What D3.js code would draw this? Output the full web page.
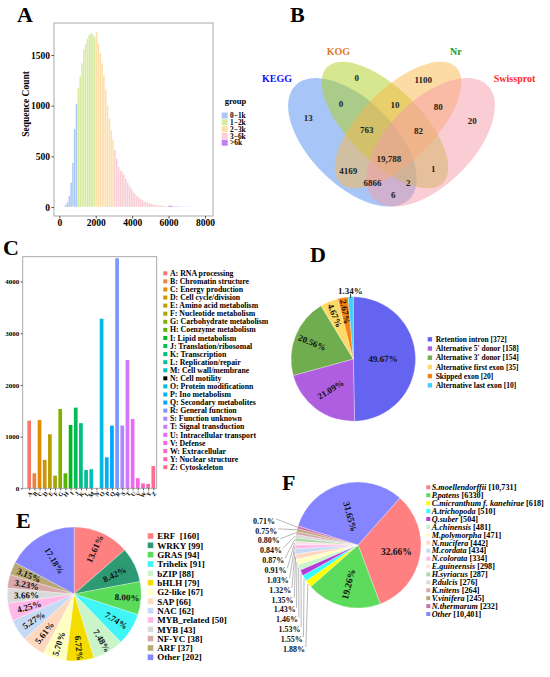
<!DOCTYPE html>
<html>
<head>
<meta charset="utf-8">
<script src="https://cdn.jsdelivr.net/npm/d3@7"></script>
<style>
body { margin: 0; background: #fff; }
svg { display: block; }
text { font-family: "Liberation Serif", "Times New Roman", serif; font-weight: bold; }
</style>
</head>
<body>
<svg id="fig" width="550" height="677"></svg>
<script>
// ---------------- data ----------------

// A: unigene length distribution, counts per 100 bp bin starting at 0
var binWidth = 100;
var lenCounts = [
  0, 2, 8, 20, 45, 110, 240, 440, 770, 1020,
  1180, 1290, 1420, 1560, 1610, 1660, 1700, 1715, 1700, 1685,
  1725, 1610, 1520, 1420, 1300, 1160, 1000, 870, 760, 660,
  565, 480, 400, 360, 350, 320, 280, 245, 210, 180,
  152, 130, 112, 96, 82, 70, 60, 51, 43, 37,
  31, 27, 23, 20, 17, 15, 13, 11, 10, 9,
  14, 10, 7, 6, 5, 4, 3, 3, 2, 2,
  2, 1, 1, 1, 1, 0, 1, 0, 0, 0
];
var lenGroups = ["0\u22121k", "1\u22122k", "2\u22123k", "3\u22126k", ">6k"];
var lenGroupBreaks = [1000, 2000, 3000, 6000];
var lenGroupColors = ["#a9c8f6", "#d6eb9c", "#fddfa9", "#f9cfd5", "#c47ef0"];
var lenTicksX = [0, 2000, 4000, 6000, 8000];
var lenTicksY = [0, 500, 1000, 1500];

// B: annotation overlap between databases
var vennSets = ["KEGG", "KOG", "Nr", "Swissprot"];
var vennSetColors = ["#1010ff", "#e07b30", "#1e9a1e", "#ff2a2a"];
var vennFills = ["#4f8ef0", "#b0d020", "#fab84a", "#f59aa8"];
// regions: KEGG, KOG, Nr, Swiss only, KEGG&KOG, KOG&Nr, Nr&Swiss, KEGG&KOG&Nr,
// KOG&Nr&Swiss, all, KEGG&Nr, KOG&Swiss, KEGG&Nr&Swiss, KEGG&KOG&Swiss, KEGG&Swiss
var vennCounts = [13, 0, 1100, 20, 0, 10, 80, 763, 82, 19788, 4169, 1, 6866, 2, 6];

// C: KOG classification
var cogCodes = ["A","B","C","D","E","F","G","H","I","J","K","L","M","N","O","P","Q","R","S","T","U","V","W","Y","Z"];
var cogNames = ["RNA processing", "Chromatin structure", "Energy production", "Cell cycle/division",
  "Amino acid metabolism", "Nucleotide metabolism", "Carbohydrate metabolism", "Coenzyme metabolism",
  "Lipid metabolism", "Translation/ribosomal", "Transcription", "Replication/repair",
  "Cell wall/membrane", "Cell motility", "Protein modificationn", "Ino metabolism",
  "Secondary metabolites", "General function", "Function unknown", "Signal transduction",
  "Intracellular transport", "Defense", "Extracellular", "Nuclear structure", "Cytoskeleton"];
var cogCounts = [1310, 290, 1320, 550, 1045, 245, 1535, 290, 1225, 1560, 1260, 355, 370,
  0, 3280, 600, 1210, 4450, 1215, 2480, 1340, 195, 95, 85, 430];
var cogTicks = [0, 1000, 2000, 3000, 4000];

// D: alternative splicing events
var asTypes = ["Retention intron", "Alternative 5' donor", "Alternative 3' donor",
  "Alternative first exon", "Skipped exon", "Alternative last exon"];
var asCounts = [372, 158, 154, 35, 20, 10];
var asPct = ["49.67%", "21.09%", "20.56%", "4.67%", "2.67%", "1.34%"];
var asColors = ["#6464f0", "#b05ee0", "#70ad4f", "#ffd966", "#f7830c", "#44ccff"];

// E: transcription factor families
var tfNames = ["ERF\u00a0", "WRKY", "GRAS", "Trihelix", "bZIP", "bHLH", "G2-like", "SAP", "NAC",
  "MYB_related", "MYB", "NF-YC", "ARF", "Other"];
var tfCounts = [160, 99, 94, 91, 88, 79, 67, 66, 62, 50, 43, 38, 37, 202];
var tfPct = ["13.61%", "8.42%", "8.00%", "7.74%", "7.48%", "6.72%", "5.70%", "5.61%", "5.27%",
  "4.25%", "3.66%", "3.23%", "3.15%", "17.18%"];
var tfColors = ["#ff8080", "#2e9a74", "#5adc5a", "#40f5f5", "#c9f5c9", "#f5dc00", "#ffffc2",
  "#ffd9bf", "#c4daf5", "#ffb8e8", "#dadada", "#d9a8aa", "#b8a872", "#8585ff"];

// F: species distribution of Nr hits
var spNames = ["S.moellendorffii", "P.patens", "C.micranthum f. kanehirae", "A.trichopoda",
  "Q.suber", "A.chinensis", "M.polymorpha", "N.nucifera", "M.cordata", "N.colorata",
  "E.guineensis", "H.syriacus", "P.dulcis", "K.nitens", "V.vinifera", "N.thermarum", "Other"];
var spCounts = [10731, 6330, 618, 510, 504, 481, 471, 442, 434, 334, 298, 287, 276, 264, 245, 232, 10401];
var spPct = ["32.66%", "19.26%", "1.88%", "1.55%", "1.53%", "1.46%", "1.43%", "1.35%", "1.32%",
  "1.03%", "0.91%", "0.87%", "0.84%", "0.80%", "0.75%", "0.71%", "31.65%"];
var spColors = ["#ff8080", "#5cdb5c", "#ffff00", "#33ffff", "#b33dd9", "#c9f5c9", "#ffffc2",
  "#ffd9bf", "#c4daf5", "#ffb8e8", "#ffe0e6", "#a8dba8", "#d9d9d9", "#d9a8aa", "#b8a872",
  "#d16fb5", "#8585ff"];

// ---------------- helpers ----------------
var svg = d3.select("svg#fig");
var intFmt = d3.format("d");

function fmtCount(n) { return n >= 10000 ? d3.format(",")(n) : String(n); }
function midAngle(d) { return (d.startAngle + d.endAngle) / 2; }
// text turned along the radius, kept upright
function uprightAngle(d) {
  var deg = (midAngle(d) * 180 / Math.PI) % 360;
  return deg < 180 ? deg - 90 : deg - 270;
}
function polar(a, r) { return [Math.sin(a) * r, -Math.cos(a) * r]; }

// R-style hcl() (polar CIE-LUV), used for the default ggplot hue palette
function hclLuv(h, c, l) {
  var hr = h * Math.PI / 180;
  var u = c * Math.cos(hr), v = c * Math.sin(hr);
  var Xn = 95.047, Yn = 100, Zn = 108.883;
  var den = Xn + 15 * Yn + 3 * Zn;
  var un = 4 * Xn / den, vn = 9 * Yn / den;
  var Y = Yn * Math.pow((l + 16) / 116, 3);
  var up = u / (13 * l) + un, vp = v / (13 * l) + vn;
  var X = Y * 9 * up / (4 * vp), Z = Y * (12 - 3 * up - 20 * vp) / (4 * vp);
  X /= 100; Y /= 100; Z /= 100;
  var r = 3.240479 * X - 1.537150 * Y - 0.498535 * Z;
  var g = -0.969256 * X + 1.875992 * Y + 0.041556 * Z;
  var b = 0.055648 * X - 0.204043 * Y + 1.057311 * Z;
  function gam(t) {
    t = Math.max(0, Math.min(1, t));
    return t <= 0.0031308 ? 12.92 * t : 1.055 * Math.pow(t, 1 / 2.4) - 0.055;
  }
  return d3.rgb(gam(r) * 255, gam(g) * 255, gam(b) * 255).formatHex();
}

function panelLetter(s, x, y) {
  svg.append("text").attr("x", x).attr("y", y).attr("font-size", 22).attr("fill", "#000").text(s);
}
panelLetter("A", 17, 22);
panelLetter("B", 290, 22);
panelLetter("C", 3, 255);
panelLetter("D", 310, 262);
panelLetter("E", 16, 528);
panelLetter("F", 282, 490);

// ---------------- A: histogram ----------------
var xA = d3.scaleLinear().domain([0, 8000]).range([59.3, 205]);
var yA = d3.scaleLinear().domain([0, 1500]).range([207, 55]);
var gA = svg.append("g");

gA.selectAll("rect.bin")
  .data(lenCounts)
  .enter().append("rect")
  .attr("class", "bin")
  .attr("x", (d, i) => xA(i * binWidth))
  .attr("width", xA(binWidth) - xA(0))
  .attr("y", d => yA(d))
  .attr("height", d => yA(0) - yA(d))
  .attr("fill", (d, i) => lenGroupColors[d3.bisectRight(lenGroupBreaks, i * binWidth)])
  .attr("stroke", "#fff")
  .attr("stroke-width", 0.2);

gA.append("rect")
  .attr("x", 54).attr("y", 23).attr("width", 159).attr("height", 193)
  .attr("fill", "none").attr("stroke", "#a0a0a0").attr("stroke-width", 0.9);

gA.append("g")
  .attr("transform", "translate(54,0)")
  .call(d3.axisLeft(yA).tickValues(lenTicksY).tickFormat(intFmt).tickSize(2.5).tickPadding(1.5))
  .attr("font-size", 9.5)
  .call(g => g.select(".domain").remove())
  .call(g => g.selectAll("line").attr("stroke", "#555"));

gA.append("g")
  .attr("transform", "translate(0,216)")
  .call(d3.axisBottom(xA).tickValues(lenTicksX).tickFormat(intFmt).tickSize(2.5).tickPadding(1))
  .attr("font-size", 9.5)
  .call(g => g.select(".domain").remove())
  .call(g => g.selectAll("line").attr("stroke", "#555"));

gA.append("text")
  .attr("transform", "translate(28.5,104) rotate(-90)")
  .attr("text-anchor", "middle").attr("font-size", 9.5)
  .text("Sequence Count");

gA.append("text").attr("x", 224.7).attr("y", 104).attr("font-size", 8.5).text("group");
var legA = gA.selectAll("g.leg").data(lenGroups).enter().append("g")
  .attr("class", "leg")
  .attr("transform", (d, i) => "translate(221.7," + (115.5 + i * 6.8) + ")");
legA.append("rect").attr("x", 0).attr("y", -3).attr("width", 6).attr("height", 6)
  .attr("fill", (d, i) => lenGroupColors[i]);
legA.append("text").attr("x", 8.3).attr("y", 2.6).attr("font-size", 7.4).text(d => d);

// ---------------- B: Venn ----------------
var vx = d3.scaleLinear().domain([0, 1]).range([276.5, 506.5]);
var vy = d3.scaleLinear().domain([0, 1]).range([245, 15]);
var vUnit = vx(1) - vx(0);
var vennShapes = [
  { cx: 0.330, cy: 0.4465, a: 0.350, b: 0.184, rot: 45 },
  { cx: 0.4717, cy: 0.5217, a: 0.356, b: 0.158, rot: 45 },
  { cx: 0.5283, cy: 0.5217, a: 0.356, b: 0.158, rot: -45 },
  { cx: 0.670, cy: 0.4465, a: 0.350, b: 0.184, rot: -45 }
];
var vennLabelPos = [[0.138, 0.553], [0.349, 0.725], [0.638, 0.717], [0.851, 0.540],
  [0.280, 0.613], [0.515, 0.609], [0.703, 0.599], [0.392, 0.500], [0.617, 0.497],
  [0.489, 0.374], [0.312, 0.322], [0.682, 0.333], [0.417, 0.271], [0.573, 0.271], [0.508, 0.217]];
var vennSetPos = [[0.002, 0.722], [0.269, 0.840], [0.780, 0.840], [1.035, 0.722]];

var gB = svg.append("g");
gB.selectAll("ellipse")
  .data(vennShapes)
  .enter().append("ellipse")
  .attr("cx", d => vx(d.cx))
  .attr("cy", d => vy(d.cy))
  .attr("rx", d => d.a * vUnit)
  .attr("ry", d => d.b * vUnit)
  .attr("transform", d => "rotate(" + d.rot + "," + vx(d.cx) + "," + vy(d.cy) + ")")
  .attr("fill", (d, i) => vennFills[i])
  .attr("fill-opacity", 0.5);

gB.selectAll("text.cnt")
  .data(vennCounts)
  .enter().append("text")
  .attr("class", "cnt")
  .attr("x", (d, i) => vx(vennLabelPos[i][0]))
  .attr("y", (d, i) => vy(vennLabelPos[i][1]))
  .attr("dy", "0.35em")
  .attr("text-anchor", "middle")
  .attr("font-size", 9)
  .attr("fill", "#222")
  .text(d => fmtCount(d));

gB.selectAll("text.set")
  .data(vennSets)
  .enter().append("text")
  .attr("class", "set")
  .attr("x", (d, i) => vx(vennSetPos[i][0]))
  .attr("y", (d, i) => vy(vennSetPos[i][1]))
  .attr("dy", "0.35em")
  .attr("text-anchor", "middle")
  .attr("font-size", 10)
  .attr("fill", (d, i) => vennSetColors[i])
  .text(d => d);

// ---------------- C: KOG bars ----------------
var xC = d3.scalePoint().domain(cogCodes).range([29.2, 153.3]);
var yC = d3.scaleLinear().domain([0, 4480]).range([488.3, 256.7]);
var cogColors = cogCodes.map((c, i) => hclLuv(15 + 360 * i / cogCodes.length, 100, 65));
cogColors[cogCodes.indexOf("N")] = "#000000";
var barW = 3.7;

var gC = svg.append("g");
gC.selectAll("rect.bar")
  .data(cogCounts)
  .enter().append("rect")
  .attr("class", "bar")
  .attr("x", (d, i) => xC(cogCodes[i]) - barW / 2)
  .attr("width", barW)
  .attr("y", d => yC(d))
  .attr("height", d => yC(0) - yC(d))
  .attr("fill", (d, i) => cogColors[i]);

gC.append("rect")
  .attr("x", 22.7).attr("y", 256.7).attr("width", 134).attr("height", 231.6)
  .attr("fill", "none").attr("stroke", "#a0a0a0").attr("stroke-width", 0.9);

gC.append("g")
  .attr("transform", "translate(22.7,0)")
  .call(d3.axisLeft(yC).tickValues(cogTicks).tickFormat(intFmt).tickSize(2).tickPadding(1.5))
  .attr("font-size", 7)
  .call(g => g.select(".domain").remove())
  .call(g => g.selectAll("line").attr("stroke", "#555"));

gC.append("g")
  .attr("transform", "translate(0,488.3)")
  .call(d3.axisBottom(xC).tickSize(2))
  .attr("font-size", 6)
  .call(g => g.select(".domain").remove())
  .call(g => g.selectAll("line").attr("stroke", "#555"))
  .call(g => g.selectAll("text")
    .attr("x", 0).attr("y", 0).attr("dy", "0.35em")
    .attr("transform", "translate(1.5,4) rotate(-50)")
    .style("text-anchor", "end"));

var legC = gC.selectAll("g.leg").data(cogNames).enter().append("g")
  .attr("class", "leg")
  .attr("transform", (d, i) => "translate(163.3," + (273.3 + i * 8.08) + ")");
legC.append("rect").attr("x", 0).attr("y", -2).attr("width", 4).attr("height", 4)
  .attr("fill", (d, i) => cogColors[i]);
legC.append("text").attr("x", 6.7).attr("y", 2.6).attr("font-size", 7.8)
  .text((d, i) => cogCodes[i] + ": " + d);

// ---------------- D: splicing pie ----------------
var dCx = 353.3, dCy = 359, dR = 62.3;
var dLabelR = [0.48, 0.61, 0.71, 0.76, 0.77, 1.1];
var dLabelRot = [null, -32, null, null, null, 0];
var pieD = d3.pie().sort(null).value(d => d)(asCounts);
var arcD = d3.arc().innerRadius(0).outerRadius(dR);
var gD = svg.append("g").attr("transform", "translate(" + dCx + "," + dCy + ")");

gD.selectAll("path")
  .data(pieD)
  .enter().append("path")
  .attr("d", arcD)
  .attr("fill", (d, i) => asColors[i])
  .attr("stroke", "#fff").attr("stroke-width", 0.3);

gD.selectAll("text")
  .data(pieD)
  .enter().append("text")
  .attr("transform", (d, i) => {
    var p = polar(midAngle(d), dR * dLabelR[i]);
    var rot = dLabelRot[i] === null ? uprightAngle(d) : dLabelRot[i];
    return "translate(" + p[0] + "," + p[1] + ") rotate(" + rot + ")";
  })
  .attr("text-anchor", "middle").attr("dy", "0.35em")
  .attr("font-size", 9).attr("fill", "#111")
  .text((d, i) => asPct[i]);

// tiny tick for the outside label
gD.selectAll("line.tick")
  .data(pieD.filter((d, i) => dLabelR[i] > 1))
  .enter().append("line")
  .attr("class", "tick")
  .attr("x1", d => polar(midAngle(d), dR - 1)[0])
  .attr("y1", d => polar(midAngle(d), dR - 1)[1])
  .attr("x2", d => polar(midAngle(d), dR + 3)[0])
  .attr("y2", d => polar(midAngle(d), dR + 3)[1])
  .attr("stroke", "#000").attr("stroke-width", 0.8);

var legD = svg.selectAll("g.legD").data(asTypes).enter().append("g")
  .attr("class", "legD")
  .attr("transform", (d, i) => "translate(427.7," + (339.3 + i * 9.2) + ")");
legD.append("rect").attr("x", 0).attr("y", -2.2).attr("width", 4.4).attr("height", 4.4)
  .attr("fill", (d, i) => asColors[i]);
legD.append("text").attr("x", 8).attr("y", 2.6).attr("font-size", 7.5)
  .text((d, i) => d + " [" + asCounts[i] + "]");

// ---------------- E: TF family pie ----------------
var eCx = 74.2, eCy = 594, eR = 67;
var eLabelR = [0.74, 0.67, 0.79, 0.74, 0.81, 0.81, 0.78, 0.73, 0.72, 0.70, 0.71, 0.72, 0.73, 0.58];
var pieE = d3.pie().sort(null).value(d => d)(tfCounts);
var arcE = d3.arc().innerRadius(0).outerRadius(eR);
var gE = svg.append("g").attr("transform", "translate(" + eCx + "," + eCy + ")");

gE.selectAll("path")
  .data(pieE)
  .enter().append("path")
  .attr("d", arcE)
  .attr("fill", (d, i) => tfColors[i])
  .attr("stroke", "#fff").attr("stroke-width", 0.3);

gE.selectAll("text")
  .data(pieE)
  .enter().append("text")
  .attr("transform", (d, i) => {
    var p = polar(midAngle(d), eR * eLabelR[i]);
    return "translate(" + p[0] + "," + p[1] + ") rotate(" + uprightAngle(d) + ")";
  })
  .attr("text-anchor", "middle").attr("dy", "0.35em")
  .attr("font-size", 9).attr("fill", "#111")
  .text((d, i) => tfPct[i]);

var legE = svg.selectAll("g.legE").data(tfNames).enter().append("g")
  .attr("class", "legE")
  .attr("transform", (d, i) => "translate(147.7," + (536 + i * 9.33) + ")");
legE.append("rect").attr("x", 0).attr("y", -2.8).attr("width", 5.6).attr("height", 5.6)
  .attr("fill", (d, i) => tfColors[i]);
legE.append("text").attr("x", 9.6).attr("y", 3.2).attr("font-size", 9)
  .text((d, i) => d + " [" + tfCounts[i] + "]");

// ---------------- F: species pie ----------------
var fCx = 358, fCy = 545, fR = 63;
var fStart = 41.7 * Math.PI / 180;
var pieF = d3.pie().sort(null).value(d => d)
  .startAngle(fStart).endAngle(fStart + 2 * Math.PI)(spCounts);
var arcF = d3.arc().innerRadius(0).outerRadius(fR);
var gF = svg.append("g").attr("transform", "translate(" + fCx + "," + fCy + ")");

gF.selectAll("path")
  .data(pieF)
  .enter().append("path")
  .attr("d", arcF)
  .attr("fill", (d, i) => spColors[i])
  .attr("stroke", "#fff").attr("stroke-width", 0.3);

// the three big slices carry their label inside
var fInside = [0, 1, spCounts.length - 1];
var fInsideR = [0.62, 0.64, 0.47];
var fInsideRot = [0, null, null];
gF.selectAll("text.in")
  .data(fInside)
  .enter().append("text")
  .attr("class", "in")
  .attr("transform", (idx, k) => {
    var d = pieF[idx];
    var p = polar(midAngle(d), fR * fInsideR[k]);
    var rot = fInsideRot[k] === null ? uprightAngle(d) : fInsideRot[k];
    return "translate(" + p[0] + "," + p[1] + ") rotate(" + rot + ")";
  })
  .attr("text-anchor", "middle").attr("dy", "0.35em")
  .attr("font-size", 9.5).attr("fill", "#111")
  .text(idx => spPct[idx]);

// the small slices get a stacked label column with leader lines
var fSmall = pieF.slice(2, spCounts.length - 1);
var fColBottom = 649, fColStep = 9.85, fColRight = 305, fColSlope = 0.234;
function colY(k) { return fColBottom - k * fColStep; }
function colX(k) { return fColRight - k * fColStep * fColSlope; }

svg.selectAll("line.lead")
  .data(fSmall)
  .enter().append("line")
  .attr("class", "lead")
  .attr("x1", (d, k) => colX(k) + 0.8)
  .attr("y1", (d, k) => colY(k) - 2)
  .attr("x2", d => fCx + polar(midAngle(d), fR + 0.5)[0])
  .attr("y2", d => fCy + polar(midAngle(d), fR + 0.5)[1])
  .attr("stroke", "#8a8a8a").attr("stroke-width", 0.6);

svg.selectAll("text.out")
  .data(fSmall)
  .enter().append("text")
  .attr("class", "out")
  .attr("x", (d, k) => colX(k))
  .attr("y", (d, k) => colY(k))
  .attr("dy", "0.35em")
  .attr("text-anchor", "end")
  .attr("font-size", 8).attr("fill", "#111")
  .text((d, k) => spPct[k + 2]);

var legF = svg.selectAll("g.legF").data(spNames).enter().append("g")
  .attr("class", "legF")
  .attr("transform", (d, i) => "translate(426.3," + (487.3 + i * 7.92) + ")");
legF.append("rect").attr("x", 0).attr("y", -2).attr("width", 4).attr("height", 4)
  .attr("fill", (d, i) => spColors[i]);
var legFText = legF.append("text").attr("x", 5.4).attr("y", 2.8).attr("font-size", 8.2);
legFText.append("tspan").attr("font-style", "italic").text(d => d);
legFText.append("tspan").text((d, i) => " [" + fmtCount(spCounts[i]) + "]");
</script>
</body>
</html>
